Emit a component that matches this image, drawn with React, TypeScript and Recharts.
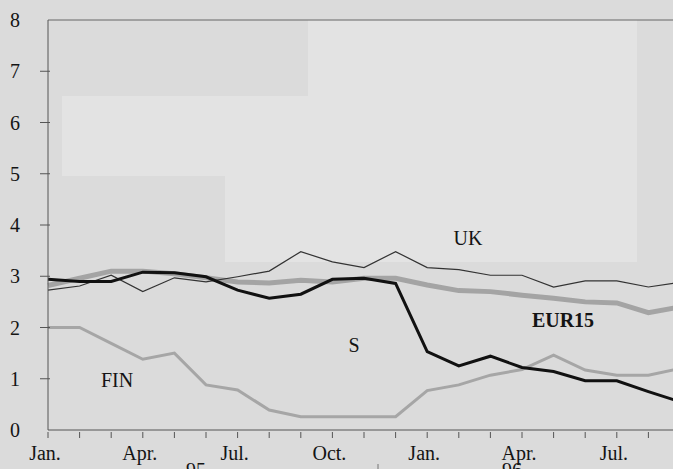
import { LineChart, Line, XAxis, YAxis, ReferenceLine } from "recharts"

// month index 0 = Jan. 95, 20 = Sep. 96
const months = Array.from({ length: 21 }, (_, i) => i)
const monthNames = ["Jan.", "Apr.", "Jul.", "Oct."]
const yearLabels = ["95", "96"]
const yearLabelMonths = [5, 15]

const uk = [2.73, 2.81, 3.02, 2.7, 2.97, 2.89, 2.99, 3.1, 3.48, 3.28, 3.17, 3.48, 3.17, 3.13, 3.02, 3.02, 2.79, 2.91, 2.91, 2.79, 2.88]
const eur15 = [2.82, 2.96, 3.1, 3.1, 3.05, 2.97, 2.89, 2.87, 2.92, 2.89, 2.96, 2.96, 2.83, 2.72, 2.7, 2.63, 2.57, 2.5, 2.48, 2.29, 2.4]
const sweden = [2.94, 2.9, 2.9, 3.08, 3.07, 2.99, 2.73, 2.57, 2.65, 2.94, 2.96, 2.86, 1.53, 1.25, 1.44, 1.22, 1.14, 0.96, 0.96, 0.75, 0.55]
const fin = [2.0, 2.0, 1.69, 1.38, 1.5, 0.88, 0.78, 0.39, 0.26, 0.26, 0.26, 0.26, 0.77, 0.88, 1.07, 1.18, 1.46, 1.17, 1.07, 1.07, 1.2]

const data = months.map((m, i) => ({ m, uk: uk[i], eur15: eur15[i], s: sweden[i], fin: fin[i] }))

const FONT = "'Liberation Serif', 'DejaVu Serif', serif"

const XTick = (props: any) => {
  const { x, y, payload } = props
  const v = payload.value as number
  const major = v % 3 === 0
  const yearIdx = yearLabelMonths.indexOf(v)
  return (
    <g>
      <line x1={x} x2={x} y1={y} y2={y - 6} stroke="#555" strokeWidth={1} />
      {major && (
        <text x={x - 3} y={y + 22} textAnchor="middle" fontFamily={FONT} fontSize={20} fill="#141414">
          {monthNames[(v % 12) / 3]}
        </text>
      )}
      {yearIdx >= 0 && (
        <text x={x - 10} y={y + 39} textAnchor="middle" fontFamily={FONT} fontSize={20} fill="#141414">
          {yearLabels[yearIdx]}
        </text>
      )}
      {v === 10 && <line x1={x + 14} x2={x + 14} y1={y + 26} y2={y + 40} stroke="#777" />}
    </g>
  )
}

const YTick = (props: any) => {
  const { x, y, payload } = props
  return (
    <g>
      {payload.value > 0 && payload.value < 8 && (
        <line x1={x} x2={x + 10} y1={y} y2={y} stroke="#555" strokeWidth={1} />
      )}
      <text x={x - 25} y={y + 7} textAnchor="middle" fontFamily={FONT} fontSize={20} fill="#141414">
        {payload.value}
      </text>
    </g>
  )
}

const patch = (left: number, top: number, width: number, height: number) => (
  <div style={{ position: "absolute", left, top, width, height, background: "#e3e3e3" }} />
)

export default function App() {
  return (
    <div style={{ position: "absolute", left: 0, top: 0, width: 673, height: 469, overflow: "hidden", background: "#dbdbdb" }}>
      {patch(62, 96, 246, 80)}
      {patch(225, 96, 412, 166)}
      {patch(308, 20, 329, 76)}
      <div style={{ position: "absolute", left: 0, top: 0 }}>
        <LineChart width={700} height={469} data={data} margin={{ top: 20, right: 20, left: 0, bottom: 0 }}>
          <XAxis
            dataKey="m"
            type="number"
            domain={[0, 20]}
            ticks={months}
            interval={0}
            height={39}
            tickLine={false}
            axisLine={{ stroke: "#555" }}
            tick={<XTick />}
          />
          <YAxis
            type="number"
            domain={[0, 8]}
            ticks={[0, 1, 2, 3, 4, 5, 6, 7, 8]}
            width={48}
            tickLine={false}
            axisLine={{ stroke: "#555" }}
            tick={<YTick />}
          />
          <ReferenceLine y={8} stroke="#666" />
          <Line dataKey="fin" stroke="#a6a6a6" strokeWidth={3} dot={false} isAnimationActive={false} />
          <Line dataKey="eur15" stroke="#a4a4a4" strokeWidth={5} dot={false} isAnimationActive={false} />
          <Line dataKey="uk" stroke="#333" strokeWidth={1.2} dot={false} isAnimationActive={false} />
          <Line dataKey="s" stroke="#111" strokeWidth={3} dot={false} isAnimationActive={false} />
          <text x={468} y={245} textAnchor="middle" fontFamily={FONT} fontSize={20} fill="#141414">UK</text>
          <text x={563} y={327} textAnchor="middle" fontFamily={FONT} fontSize={20} fontWeight="bold" fill="#141414">EUR15</text>
          <text x={354} y={352} textAnchor="middle" fontFamily={FONT} fontSize={20} fill="#141414">S</text>
          <text x={117} y={387} textAnchor="middle" fontFamily={FONT} fontSize={20} fill="#141414">FIN</text>
        </LineChart>
      </div>
    </div>
  )
}
